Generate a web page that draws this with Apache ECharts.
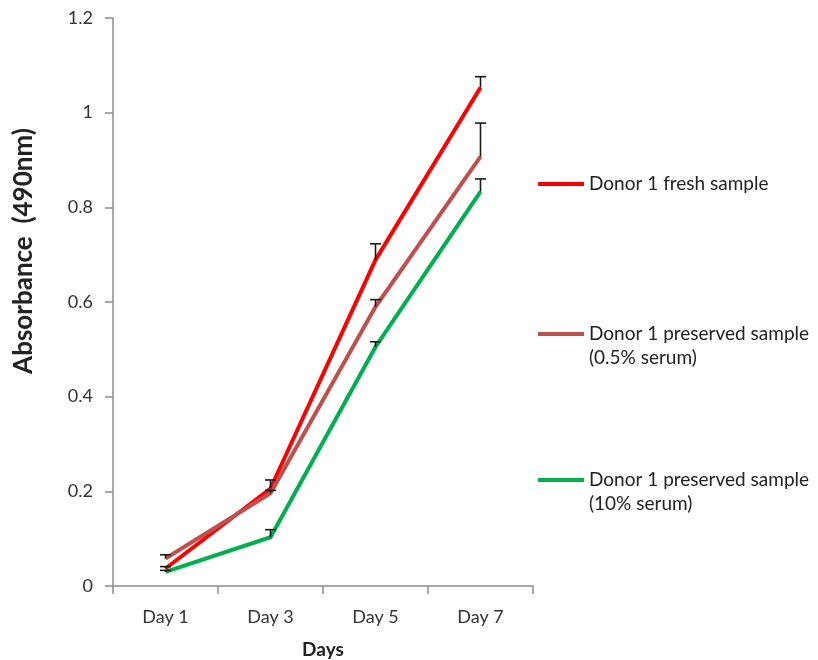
<!DOCTYPE html>
<html>
<head>
<meta charset="utf-8">
<title>Absorbance</title>
<script src="https://cdn.jsdelivr.net/npm/echarts@6/dist/echarts.min.js"></script>
<style>
  html, body { margin: 0; padding: 0; background: #fff; }
  #main { width: 818px; height: 660px; }
</style>
</head>
<body>
<div id="main"></div>
<script>
// data
var days = ['Day 1', 'Day 3', 'Day 5', 'Day 7'];
var yTicks = [0, 0.2, 0.4, 0.6, 0.8, 1, 1.2];

var freshName = 'Donor 1 fresh sample';
var lowSerumName = 'Donor 1 preserved sample (0.5% serum)';
var highSerumName = 'Donor 1 preserved sample (10% serum)';

var fresh = [0.037, 0.206, 0.689, 1.053];
var freshErr = [0.004, 0.018, 0.034, 0.023];

var lowSerum = [0.058, 0.196, 0.590, 0.907];
var lowSerumErr = [0.008, 0.006, 0.015, 0.071];

var highSerum = [0.030, 0.103, 0.505, 0.833];
var highSerumErr = [0.003, 0.016, 0.011, 0.027];

var font = 'Lato, "Liberation Sans", sans-serif';

var chart = echarts.init(document.getElementById('main'));

function errData(vals, errs) {
  return vals.map(function (v, i) { return [i, v, v + errs[i]]; });
}

function errorBars(vals, errs) {
  return {
    type: 'custom',
    silent: true,
    z: 5,
    data: errData(vals, errs),
    renderItem: function (params, api) {
      var lo = api.coord([api.value(0), api.value(1)]);
      var hi = api.coord([api.value(0), api.value(2)]);
      var hw = 5.5;
      return {
        type: 'group',
        children: [
          { type: 'line', shape: { x1: lo[0], y1: lo[1], x2: hi[0], y2: hi[1] },
            style: { stroke: '#1a1a1a', lineWidth: 1.6 } },
          { type: 'line', shape: { x1: hi[0] - hw, y1: hi[1], x2: hi[0] + hw, y2: hi[1] },
            style: { stroke: '#1a1a1a', lineWidth: 1.6 } }
        ]
      };
    }
  };
}

function lineSeries(name, vals, color) {
  return {
    name: name,
    type: 'line',
    data: vals,
    symbol: 'none',
    lineStyle: { color: color, width: 4 },
    itemStyle: { color: color },
    z: 3
  };
}

// two-line entries get a blank first line so the swatch sits on the first text line
function legendFor(name, top, twoLine) {
  return {
    data: [name],
    left: 533,
    top: top,
    orient: 'vertical',
    itemWidth: 46,
    itemHeight: 4,
    itemGap: 0,
    icon: 'rect',
    formatter: function (n) {
      if (!twoLine) return n;
      var cut = n.indexOf(' (');
      return ' \n' + n.slice(0, cut) + '\n' + n.slice(cut + 1);
    },
    textStyle: {
      fontFamily: font,
      fontSize: 19,
      color: '#222',
      lineHeight: 24
    }
  };
}

chart.setOption({
  animation: false,
  backgroundColor: '#fff',
  grid: { left: 113, right: 285, top: 18, bottom: 74, outerBoundsMode: 'none' },
  legend: [
    legendFor(freshName, 167, false),
    legendFor(lowSerumName, 293, true),
    legendFor(highSerumName, 439, true)
  ],
  xAxis: {
    type: 'category',
    data: days,
    boundaryGap: true,
    name: 'Days',
    nameLocation: 'middle',
    nameGap: 54,
    nameTextStyle: { fontFamily: font, fontSize: 19, fontWeight: 'bold', color: '#222' },
    axisLine: { lineStyle: { color: '#8c8c8c', width: 1.5 } },
    axisTick: { show: true, length: 8, lineStyle: { color: '#8c8c8c', width: 1.5 } },
    axisLabel: { fontFamily: font, fontSize: 18, color: '#333', margin: 22 }
  },
  yAxis: {
    type: 'value',
    min: yTicks[0],
    max: yTicks[yTicks.length - 1],
    interval: 0.2,
    name: 'Absorbance  (490nm)',
    nameLocation: 'middle',
    nameGap: 76,
    nameRotate: 90,
    nameTextStyle: {
      fontFamily: font, fontSize: 26, fontWeight: 'bold', color: '#222',
      padding: [0, 0, 0, 102]
    },
    axisLine: { show: true, lineStyle: { color: '#8c8c8c', width: 1.5 } },
    axisTick: { show: true, length: 8, lineStyle: { color: '#8c8c8c', width: 1.5 } },
    splitLine: { show: false },
    axisLabel: {
      fontFamily: font, fontSize: 18, color: '#333', margin: 20,
      formatter: function (v) { return String(Math.round(v * 10) / 10); }
    }
  },
  series: [
    lineSeries(freshName, fresh, '#ff0000'),
    lineSeries(lowSerumName, lowSerum, '#c0504d'),
    lineSeries(highSerumName, highSerum, '#00b050'),
    errorBars(fresh, freshErr),
    errorBars(lowSerum, lowSerumErr),
    errorBars(highSerum, highSerumErr)
  ]
});

window.onresize = function () {
  chart.resize();
};
</script>
</body>
</html>
